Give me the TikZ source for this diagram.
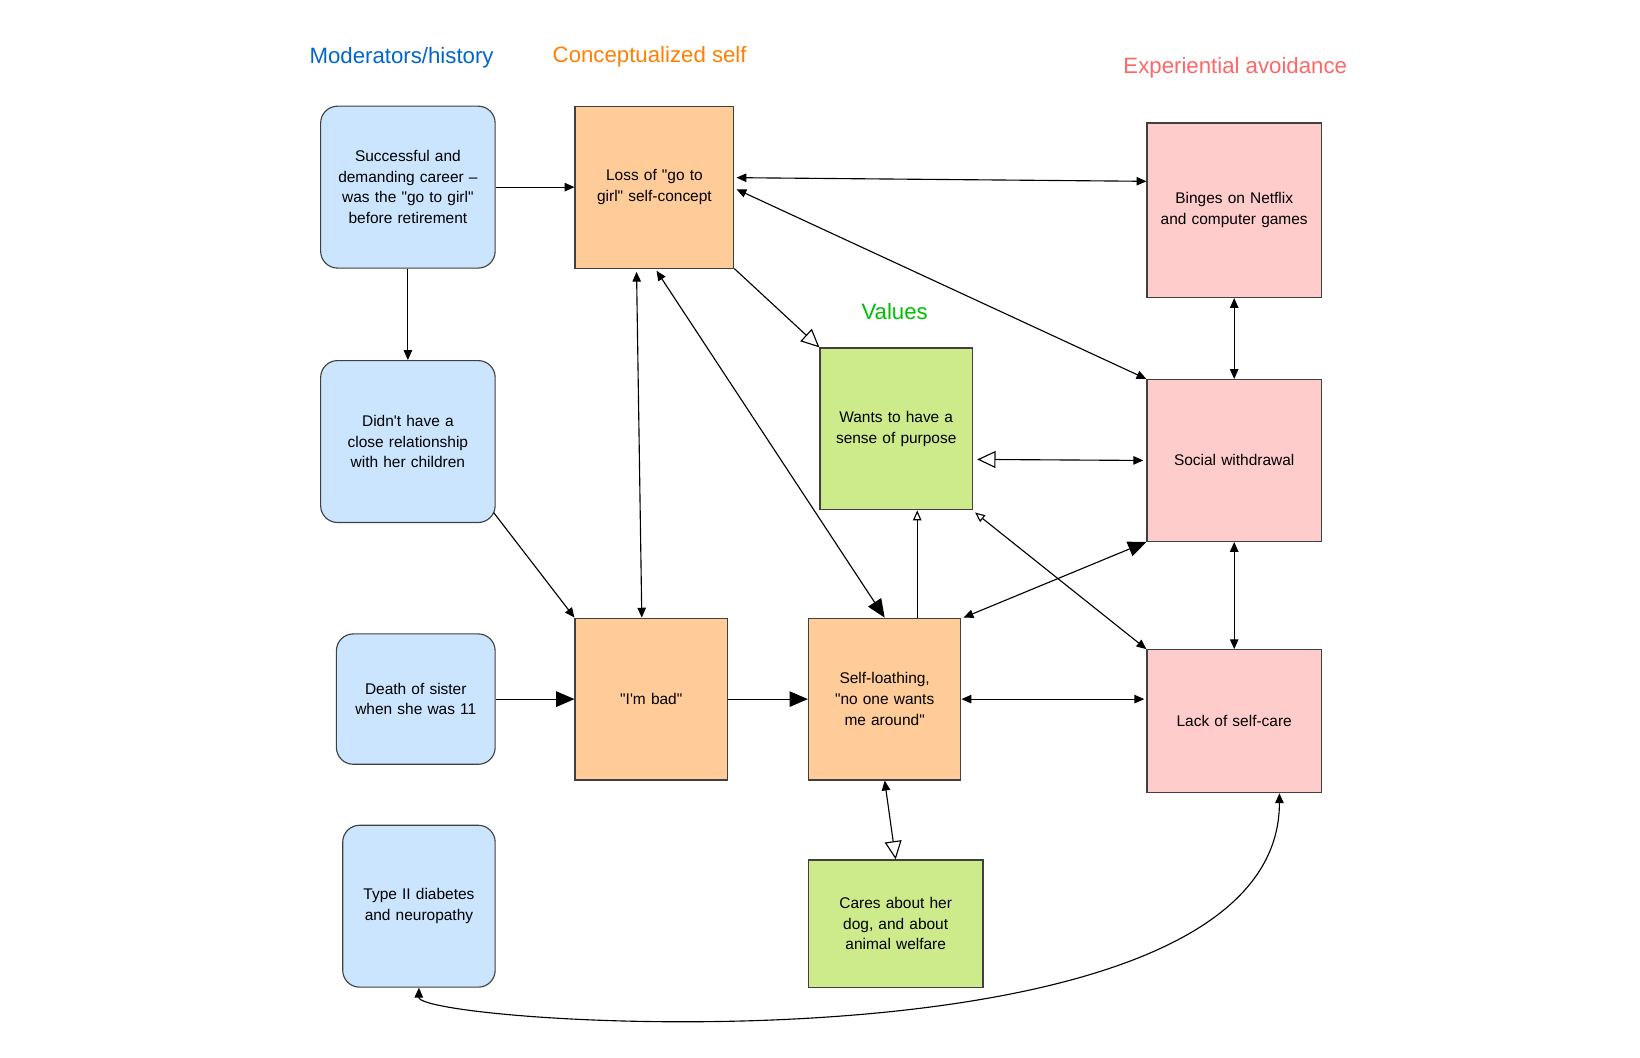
\documentclass[tikz,border=0pt]{standalone}
\usepackage{fontspec}
\setmainfont{Liberation Sans}
\usetikzlibrary{arrows.meta,calc}
\definecolor{hist}{HTML}{CCE5FF}
\definecolor{concept}{HTML}{FFCC99}
\definecolor{vals}{HTML}{CDEB8B}
\definecolor{avoid}{HTML}{FFCCCC}
\newcommand{\qq}{\textquotedbl}
\newcommand{\qs}{\textquotesingle}
\tikzset{
  box/.style={draw=black!75, thick, align=center, inner sep=2pt, font=\fontsize{11}{14.7}\selectfont},
  hbox/.style={box, fill=hist, rounded corners=12pt},
  cbox/.style={box, fill=concept},
  vbox/.style={box, fill=vals},
  abox/.style={box, fill=avoid},
  title/.style={font=\fontsize{15.8}{19}\selectfont},
  sm/.tip={Triangle[length=7pt,width=6pt]},
  lg/.tip={Triangle[length=13pt,width=11pt]},
  osm/.tip={Triangle[open,length=7pt,width=6pt,fill=white]},
  olg/.tip={Triangle[open,length=13pt,width=12pt,fill=white]},
  link/.style={thick, black}
}
\begin{document}
\begin{tikzpicture}[x=0.02628cm, y=-0.02628cm]
	\useasboundingbox (0,0) rectangle (1560,1006);
	% titles
	\node[title, text=blue!50!cyan!80!black] (t1) at (382,55) {Moderators/history};
	\node[title, text=orange] (t2) at (618,54) {Conceptualized self};
	\node[title, text=green!75!black] (t3) at (851,296) {Values};
	\node[title, text=red!60] (t4) at (1175,64) {Experiential avoidance};

	% moderators
	\node[hbox, minimum width=166*0.02628cm, minimum height=154*0.02628cm, text width=150*0.02628cm] (career) at (388,178) {Successful and demanding career \textendash{} was the \qq go to girl\qq{} before retirement};
	\node[hbox, minimum width=166*0.02628cm, minimum height=154*0.02628cm, text width=155*0.02628cm] (kids) at (388,420) {Didn\qs t have a close relationship with her children};
	\node[hbox, minimum width=151*0.02628cm, minimum height=124*0.02628cm, text width=140*0.02628cm] (sister) at (395.5,665) {Death of sister when she was 11};
	\node[hbox, minimum width=145*0.02628cm, minimum height=154*0.02628cm, text width=130*0.02628cm] (diab) at (398.5,862) {Type II diabetes and neuropathy};

	% conceptualized self
	\node[cbox, minimum width=151*0.02628cm, minimum height=154*0.02628cm, text width=145*0.02628cm] (loss) at (622.5,178) {Loss of \qq go to girl\qq{} self-concept};
	\node[cbox, minimum width=145*0.02628cm, minimum height=154*0.02628cm, text width=130*0.02628cm] (bad) at (619.5,665) {\qq I\qs m bad\qq};
	\node[cbox, minimum width=145*0.02628cm, minimum height=154*0.02628cm, text width=135*0.02628cm] (hate) at (841.5,665) {Self-loathing, \qq no one wants me around\qq};

	% values
	\node[vbox, minimum width=145*0.02628cm, minimum height=154*0.02628cm, text width=135*0.02628cm] (purpose) at (852.5,408) {Wants to have a sense of purpose};
	\node[vbox, minimum width=166*0.02628cm, minimum height=121*0.02628cm, text width=140*0.02628cm] (dog) at (852,878.5) {Cares about her dog, and about animal welfare};

	% avoidance
	\node[abox, minimum width=166*0.02628cm, minimum height=166*0.02628cm, text width=160*0.02628cm] (binge) at (1174,200) {Binges on Netflix and computer games};
	\node[abox, minimum width=166*0.02628cm, minimum height=154*0.02628cm, text width=155*0.02628cm] (withd) at (1174,438) {Social withdrawal};
	\node[abox, minimum width=166*0.02628cm, minimum height=136*0.02628cm, text width=155*0.02628cm] (care) at (1174,686) {Lack of self-care};

	% connectors
	\draw[link, -{sm}] (career.east) -- (loss.west);
	\draw[link, -{sm}] (career.south) -- (kids.north);
	\draw[link, -{sm}] ($(kids.south east)+(-2,-10)$) -- (bad.north west);
	\draw[link, -{lg}] (sister.east) -- (bad.west);
	\draw[link, -{lg}] (bad.east) -- (hate.west);
	\draw[link, {sm}-{sm}] ($(loss.south)+(-17,3)$) -- ($(bad.north)+(-9,0)$);
	\draw[link, {sm}-{lg}] ($(loss.south)+(2,2)$) -- ($(hate.north)+(0,0)$);
	\draw[link, -{olg}] (loss.south east) -- (purpose.north west);
	\draw[link, {sm}-{sm}] ($(loss.east)+(2,-9)$) -- ($(binge.north west)+(0,56)$);
	\draw[link, {sm}-{sm}] ($(loss.east)+(2,2)$) -- (withd.north west);
	\draw[link, {sm}-{sm}] (binge.south) -- (withd.north);
	\draw[link, {olg}-{sm}] ($(purpose.east)+(4,29)$) -- ($(withd.west)+(-3,0)$);
	\draw[link, -{osm}] ($(hate.north)+(31,0)$) -- ($(purpose.south)+(20,0)$);
	\draw[link, {osm}-{sm}] ($(purpose.south east)+(2,2)$) -- (care.north west);
	\draw[link, {sm}-{lg}] ($(hate.north east)+(2,0)$) -- (withd.south west);
	\draw[link, {sm}-{sm}] (hate.east) -- ($(care.west)+(-2,-21)$);
	\draw[link, {sm}-{sm}] (withd.south) -- (care.north);
	\draw[link, {sm}-{olg}] (hate.south) -- (dog.north);
	\draw[link, {sm}-{sm}] ($(care.south)+(43,0)$) .. controls (1217,1030) and (398,975) .. (diab.south);
\end{tikzpicture}
\end{document}
